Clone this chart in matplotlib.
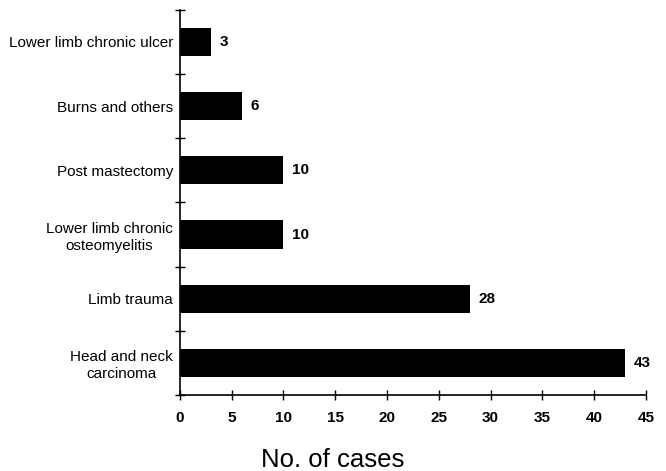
import matplotlib

matplotlib.use("Agg")
import matplotlib.pyplot as plt  # noqa: E402

plt.rcParams["font.family"] = ["Liberation Sans", "DejaVu Sans"]

categories = [
    "Head and neck\ncarcinoma",
    "Limb trauma",
    "Lower limb chronic\nosteomyelitis",
    "Post mastectomy",
    "Burns and others",
    "Lower limb chronic ulcer",
]
cases = [43, 28, 10, 10, 6, 3]
x_ticks = [0, 5, 10, 15, 20, 25, 30, 35, 40, 45]

fig = plt.figure(figsize=(6.66, 4.71), dpi=100)
ax = fig.add_axes([0.270, 0.1614, 0.700, 0.8176])

pos = list(range(len(categories)))
ax.barh(pos, cases, height=0.44, color="black")
for y, v in zip(pos, cases):
    ax.annotate(str(v), (v, y), xytext=(6, 0), textcoords="offset points",
                va="center", ha="left", fontsize=11, fontweight="bold")

ax.set_xlim(0, 45)
ax.set_ylim(-0.5, len(categories) - 0.5)
ax.set_xticks(x_ticks)
ax.set_xticklabels([str(t) for t in x_ticks], fontsize=11, fontweight="bold")

# category labels centred in each band, tick marks on the band boundaries
ax.set_yticks([p - 0.5 for p in pos] + [len(categories) - 0.5])
ax.set_yticklabels([])
ax.set_yticks(pos, minor=True)
ax.set_yticklabels(categories, minor=True, fontsize=11, ha="right",
                   multialignment="center", linespacing=1.25)
ax.tick_params(axis="y", which="minor", length=0, pad=5)
ax.tick_params(axis="y", which="major", direction="inout", length=7, width=1)
ax.tick_params(axis="x", direction="inout", length=7, width=1, pad=8)

for side in ("top", "right"):
    ax.spines[side].set_visible(False)
for side in ("left", "bottom"):
    ax.spines[side].set_linewidth(1.2)

fig.text(0.499, 0.009, "No. of cases", ha="center", va="baseline", fontsize=18.5)

fig.savefig("out.png")
